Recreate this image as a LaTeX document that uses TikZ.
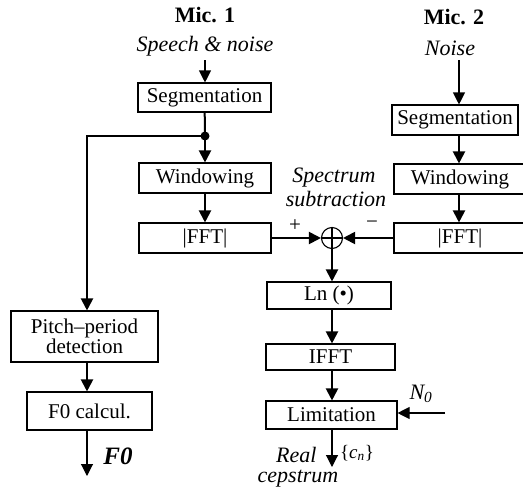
\documentclass[tikz,border=0pt]{standalone}
\usepackage{fontspec}
\setmainfont{Liberation Serif}
\usetikzlibrary{arrows.meta}

\begin{document}
\begin{tikzpicture}[x=1pt, y=-1pt,
	box/.style={draw, line width=1.1pt, inner sep=0pt, font=\fontsize{21}{22}\selectfont},
	flow/.style={line width=2pt, -{Triangle[width=12pt,length=12pt]}},
	feed/.style={line width=1.1pt, -{Triangle[width=12pt,length=12pt]}},
	lbl/.style={font=\fontsize{22}{24}\selectfont\itshape}]
	\useasboundingbox (0,0) rectangle (523,491);

	% headings and inputs
	\node[font=\fontsize{22}{24}\selectfont\bfseries] (mic1) at (205,15) {Mic. 1};
	\node[font=\fontsize{22}{24}\selectfont\bfseries] (mic2) at (454,17) {Mic. 2};
	\node[lbl] (speech) at (205,46) {Speech \& noise};
	\node[lbl] (noise) at (450,48) {Noise};

	% first channel
	\node[box, minimum width=133, minimum height=29] (seg1) at (204.5,97.5) {Segmentation};
	\node[box, minimum width=132, minimum height=30] (win1) at (205,178) {Windowing};
	\node[box, minimum width=132, minimum height=30] (fft1) at (205,238) {|FFT|};

	% second channel
	\node[box, minimum width=126, minimum height=30] (seg2) at (455,120) {Segmentation};
	\node[box, minimum width=132, minimum height=30] (win2) at (460,179) {Windowing};
	\node[box, minimum width=132, minimum height=30] (fft2) at (460,238) {|FFT|};

	% subtraction and cepstrum
	\node[draw, circle, line width=1.1pt, minimum size=21, inner sep=0pt] (sum) at (332,238) {};
	\draw[line width=1.1pt] (sum.north) -- (sum.south) (sum.west) -- (sum.east);
	\node[lbl] (spec) at (334,178) {Spectrum};
	\node[lbl] (subtr) at (336,199) {subtraction};
	\node[font=\fontsize{21}{22}\selectfont] (plus) at (295,226) {+};
	\node[font=\fontsize{21}{22}\selectfont] (minus) at (372,225) {−};

	\node[box, minimum width=124, minimum height=27] (ln) at (329,295.5) {Ln (•)};
	\node[box, minimum width=129, minimum height=26] (ifft) at (330.5,357) {IFFT};
	\node[box, minimum width=131, minimum height=28] (lim) at (331.5,415) {Limitation};
	\node[lbl] (nzero) at (421,394) {N\textsubscript{0}};
	\node[lbl, anchor=east] (real) at (320,455) {Real};
	\node[lbl] (cep) at (298,479) {cepstrum};
	\node[font=\fontsize{19}{20}\selectfont] (cn) at (357,453) {\{\textit{c\textsubscript{n}}\}};

	% pitch branch
	\node[box, minimum width=147, minimum height=51, align=center] (pitch) at (84.5,336.5) {Pitch–period\\[-2pt]detection};
	\node[box, minimum width=125, minimum height=38] (fcalc) at (89.5,411) {F0 calcul.};
	\node[font=\fontsize{25}{26}\selectfont\bfseries\itshape] (f0) at (118,456) {F0};

	\coordinate (src1) at (205,60);
	\coordinate (src2) at (459,60);
	\coordinate (split) at (205,136);
	\coordinate (corner) at (87,136);
	\coordinate (nin) at (445,413);
	\coordinate (out) at (332,467);
	\coordinate (f0out) at (87,476);

	% connectors
	\draw[feed] (src1) -- (src1 |- seg1.north);
	\draw[feed] (src2) -- (src2 |- seg2.north);
	\draw[line width=2pt] (seg1) -- (split);
	\fill (split) circle (4.5);
	\draw[flow] (split) -- (win1);
	\draw[flow] (split) -- (corner) -- (corner |- pitch.north);
	\draw[flow] (win1) -- (fft1);
	\draw[flow] (fft1) -- (sum);
	\draw[flow] (seg2.south -| src2) -- (src2 |- win2.north);
	\draw[flow] (win2.south -| src2) -- (src2 |- fft2.north);
	\draw[flow] (fft2) -- (sum);
	\draw[flow] (sum) -- (sum |- ln.north);
	\draw[flow] (ln.south -| sum) -- (sum |- ifft.north);
	\draw[flow] (ifft.south -| sum) -- (sum |- lim.north);
	\draw[feed] (lim.south -| sum) -- (out);
	\draw[feed] (nin) -- (nin -| lim.east);
	\draw[flow] (pitch.south -| corner) -- (corner |- fcalc.north);
	\draw[feed] (fcalc.south -| corner) -- (f0out);
\end{tikzpicture}
\end{document}
